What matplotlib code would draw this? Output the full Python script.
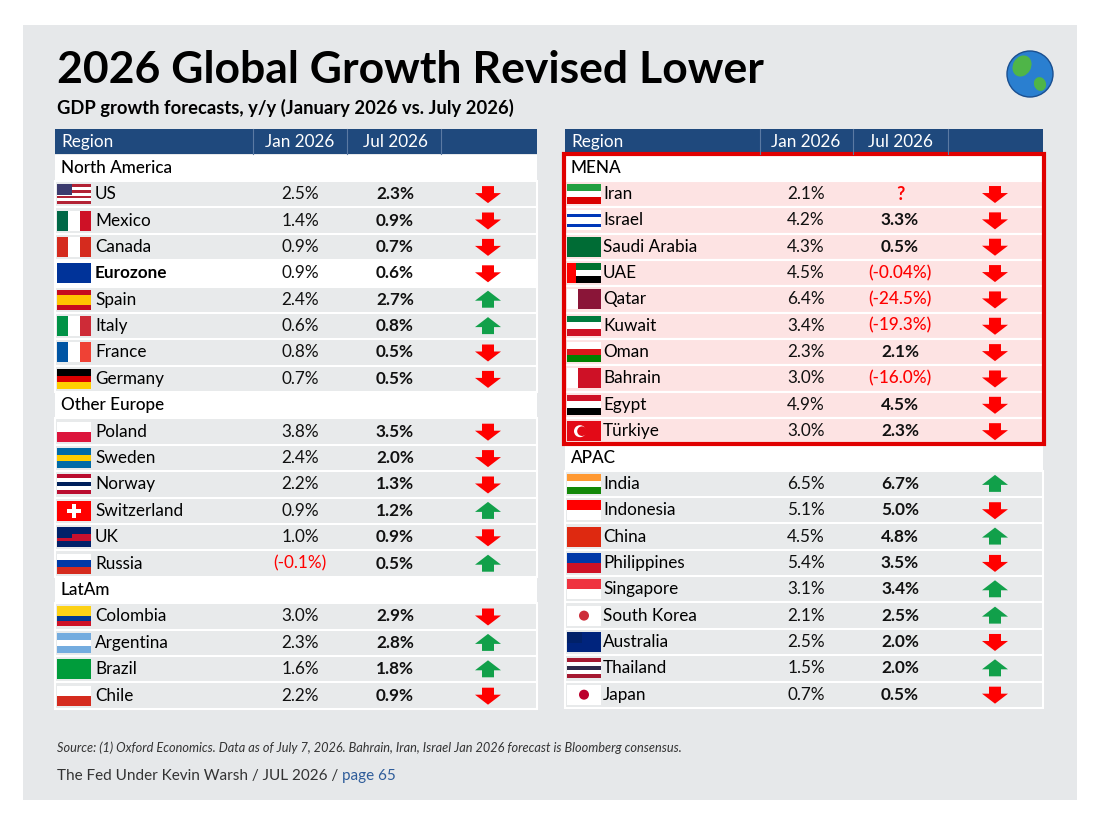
import matplotlib.pyplot as plt
from matplotlib.patches import Rectangle, Polygon, Circle, Ellipse

plt.rcParams['font.family'] = ['Lato', 'DejaVu Sans']

# ---- data ----
left_sections = ['North America', 'Other Europe', 'LatAm']
left_regions = [
    ['US', 'Mexico', 'Canada', 'Eurozone', 'Spain', 'Italy', 'France', 'Germany'],
    ['Poland', 'Sweden', 'Norway', 'Switzerland', 'UK', 'Russia'],
    ['Colombia', 'Argentina', 'Brazil', 'Chile'],
]
left_jan = [[2.5, 1.4, 0.9, 0.9, 2.4, 0.6, 0.8, 0.7],
            [3.8, 2.4, 2.2, 0.9, 1.0, -0.1],
            [3.0, 2.3, 1.6, 2.2]]
left_jul = [[2.3, 0.9, 0.7, 0.6, 2.7, 0.8, 0.5, 0.5],
            [3.5, 2.0, 1.3, 1.2, 0.9, 0.5],
            [2.9, 2.8, 1.8, 0.9]]

right_sections = ['MENA', 'APAC']
right_regions = [
    ['Iran', 'Israel', 'Saudi Arabia', 'UAE', 'Qatar', 'Kuwait', 'Oman', 'Bahrain', 'Egypt', 'Türkiye'],
    ['India', 'Indonesia', 'China', 'Philippines', 'Singapore', 'South Korea', 'Australia', 'Thailand', 'Japan'],
]
right_jan = [[2.1, 4.2, 4.3, 4.5, 6.4, 3.4, 2.3, 3.0, 4.9, 3.0],
             [6.5, 5.1, 4.5, 5.4, 3.1, 2.1, 2.5, 1.5, 0.7]]
right_jul = [[None, 3.3, 0.5, -0.04, -24.5, -19.3, 2.1, -16.0, 4.5, 2.3],
             [6.7, 5.0, 4.8, 3.5, 3.4, 2.5, 2.0, 2.0, 0.5]]
# Iran has no July number; its arrow is still down
arrow_override = {'Iran': -1}

# simple flag stripes: (orientation, colours)
flags = {
    'US': ('h', ['#b22234', 'white'] * 3 + ['#b22234']), 'Mexico': ('v', ['#006847', 'white', '#ce1126']),
    'Canada': ('v', ['#d52b1e', 'white', '#d52b1e']), 'Eurozone': ('h', ['#003399']),
    'Spain': ('h', ['#c60b1e', '#ffc400', '#ffc400', '#c60b1e']), 'Italy': ('v', ['#009246', 'white', '#ce2b37']),
    'France': ('v', ['#0055a4', 'white', '#ef4135']), 'Germany': ('h', ['black', '#dd0000', '#ffce00']),
    'Poland': ('h', ['white', '#dc143c']), 'Sweden': ('h', ['#006aa7', '#fecc00', '#006aa7']),
    'Norway': ('h', ['#ba0c2f', 'white', '#00205b', 'white', '#ba0c2f']), 'Switzerland': ('h', ['#ff0000']),
    'UK': ('h', ['#012169', '#c8102e', '#012169']), 'Russia': ('h', ['white', '#0039a6', '#d52b1e']),
    'Colombia': ('h', ['#fcd116', '#fcd116', '#003893', '#ce1126']),
    'Argentina': ('h', ['#74acdf', 'white', '#74acdf']), 'Brazil': ('h', ['#009c3b']),
    'Chile': ('h', ['white', '#d52b1e']),
    'Iran': ('h', ['#239f40', 'white', '#da0000']), 'Israel': ('h', ['white', '#0038b8', 'white', 'white', '#0038b8', 'white']),
    'Saudi Arabia': ('h', ['#006c35']), 'UAE': ('h', ['#00732f', 'white', 'black']),
    'Qatar': ('v', ['white', '#8a1538', '#8a1538']), 'Kuwait': ('h', ['#007a3d', 'white', '#ce1126']),
    'Oman': ('h', ['white', '#db161b', '#008000']), 'Bahrain': ('v', ['white', '#ce1126', '#ce1126']),
    'Egypt': ('h', ['#ce1126', 'white', 'black']), 'Türkiye': ('h', ['#e30a17']),
    'India': ('h', ['#ff9933', 'white', '#138808']), 'Indonesia': ('h', ['#ff0000', 'white']),
    'China': ('h', ['#de2910']), 'Philippines': ('h', ['#0038a8', '#ce1126']),
    'Singapore': ('h', ['#ef3340', 'white']), 'South Korea': ('h', ['white']),
    'Australia': ('h', ['#00247d']), 'Thailand': ('h', ['#a51931', 'white', '#2d2a4a', 'white', '#a51931']),
    'Japan': ('h', ['white']),
}
bold_names = ['Eurozone']

NAVY = '#1f497d'
GRAY_ROW = '#e8eaeb'
PINK_ROW = '#fde3e3'
FS = 12.3

fig = plt.figure(figsize=(11, 8.25), dpi=100)
ax = fig.add_axes([0, 0, 1, 1])
ax.set_xlim(0, 1100)
ax.set_ylim(825, 0)
ax.axis('off')

ax.add_patch(Rectangle((23, 25), 1054, 775, fc='#e6e8ea', ec='none'))
ax.text(57, 70, '2026 Global Growth Revised Lower', fontsize=32, fontweight='bold', va='center')
ax.text(57, 108, 'GDP growth forecasts, y/y (January 2026 vs. July 2026)', fontsize=13.2,
        fontweight='bold', va='center')
# globe
ax.add_patch(Circle((1030, 74), 23, fc='#2a7fd0', ec='#1a4f90', lw=1))
ax.add_patch(Ellipse((1022, 66), 18, 22, angle=30, fc='#4fb548', ec='none'))
ax.add_patch(Ellipse((1040, 84), 12, 14, angle=-20, fc='#4fb548', ec='none'))


def draw_flag(name, x, y, w=34, h=20):
    orient, cols = flags[name]
    n = len(cols)
    for i, c in enumerate(cols):
        if orient == 'h':
            ax.add_patch(Rectangle((x, y + i * h / n), w, h / n, fc=c, ec='none'))
        else:
            ax.add_patch(Rectangle((x + i * w / n, y), w / n, h, fc=c, ec='none'))
    if name in ('US', 'Australia', 'UK'):
        ax.add_patch(Rectangle((x, y), w * 0.45, h * 0.55, fc='#3c3b6e' if name == 'US' else '#012169', ec='none'))
    if name == 'Japan':
        ax.add_patch(Circle((x + w / 2, y + h / 2), 5, fc='#bc002d', ec='none'))
    if name == 'South Korea':
        ax.add_patch(Circle((x + w / 2, y + h / 2), 5, fc='#cd2e3a', ec='none'))
    if name == 'Switzerland':
        ax.add_patch(Rectangle((x + w / 2 - 7, y + h / 2 - 2), 14, 4, fc='white', ec='none'))
        ax.add_patch(Rectangle((x + w / 2 - 2, y + h / 2 - 7), 4, 14, fc='white', ec='none'))
    if name == 'Türkiye':
        ax.add_patch(Circle((x + 13, y + h / 2), 6, fc='white', ec='none'))
        ax.add_patch(Circle((x + 15, y + h / 2), 4.8, fc='#e30a17', ec='none'))
    if name == 'UAE':
        ax.add_patch(Rectangle((x, y), w * 0.27, h, fc='#ff0000', ec='none'))


def draw_arrow(cx, cy, up):
    s = -1 if up else 1
    pts = [(cx - 6, cy - 8 * s), (cx + 6, cy - 8 * s), (cx + 6, cy - 1 * s), (cx + 13, cy - 1 * s),
           (cx, cy + 9 * s), (cx - 13, cy - 1 * s), (cx - 6, cy - 1 * s)]
    ax.add_patch(Polygon(pts, closed=True, fc='#11a04a' if up else '#ff0000', ec='none'))


def fmt(v, dec=1):
    if v < 0:
        return '(%.*f%%)' % (dec, v)
    return '%.1f%%' % v


def draw_table(x0, x1, cols, sections, regions, jan, jul, pitch, pink_section=None):
    ax.add_patch(Rectangle((x0, 129), x1 - x0, 25, fc=NAVY, ec='none'))
    for sx in cols['seps']:
        ax.plot([sx, sx], [129, 154], color='#5b7aa3', lw=0.8)
    ax.text(x0 + 6, 142, 'Region', color='white', fontsize=FS, va='center')
    ax.text(cols['jan'], 142, 'Jan 2026', color='white', fontsize=FS, va='center', ha='center')
    ax.text(cols['jul'], 142, 'Jul 2026', color='white', fontsize=FS, va='center', ha='center')
    y = 154.5
    for si, sec in enumerate(sections):
        ax.add_patch(Rectangle((x0, y), x1 - x0, pitch, fc='white', ec='none'))
        ax.text(x0 + 6, y + pitch / 2, sec, fontsize=FS, va='center', fontweight='medium')
        y += pitch
        for name, a, b in zip(regions[si], jan[si], jul[si]):
            bg = PINK_ROW if si == pink_section else GRAY_ROW
            if name in bold_names:
                bg = 'white'
            ax.add_patch(Rectangle((x0, y), x1 - x0, pitch, fc=bg, ec='white', lw=1.5))
            cy = y + pitch / 2
            draw_flag(name, x0 + 2, cy - 10)
            ax.text(cols['name'], cy, name, fontsize=FS, va='center',
                    fontweight='bold' if name in bold_names else 'normal')
            ax.text(cols['jan'], cy, fmt(a), fontsize=FS, va='center', ha='center',
                    color='#ff0000' if a < 0 else '#111111')
            if b is None:
                ax.text(cols['jul'], cy, '?', fontsize=13, va='center', ha='center',
                        color='#ff0000', fontweight='bold')
            else:
                ax.text(cols['jul'], cy, fmt(b, 2 if -1 < b < 0 else 1), fontsize=FS, va='center',
                        ha='center', fontweight='medium' if b < 0 else 'bold',
                        color='#ff0000' if b < 0 else '#111111')
            direction = arrow_override.get(name, 1 if b is not None and b > a else -1)
            draw_arrow(cols['arrow'], cy, direction > 0)
            y += pitch
    return y


draw_table(55, 537, dict(name=95, jan=300, jul=395, arrow=488, seps=[253, 347, 441]),
           left_sections, left_regions, left_jan, left_jul, 26.4)
draw_table(565, 1043, dict(name=603, jan=806, jul=900, arrow=995, seps=[760, 853, 948]),
           right_sections, right_regions, right_jan, right_jul, 26.35, pink_section=0)
ax.add_patch(Rectangle((564, 154), 480, 290, fc='none', ec='#e00000', lw=3))

ax.text(57, 748, 'Source: (1) Oxford Economics. Data as of July 7, 2026. Bahrain, Iran, Israel Jan 2026 '
        'forecast is Bloomberg consensus.', fontsize=9.2, style='italic', color='#333333', va='center')
t = ax.text(57, 776, 'The Fed Under Kevin Warsh / JUL 2026 / ', fontsize=11, color='#333333', va='center')
ax.annotate('page 65', xycoords=t, xy=(1, 0.5), va='center', fontsize=11, color='#2e5c9a')

fig.savefig('out.png', dpi=100)
